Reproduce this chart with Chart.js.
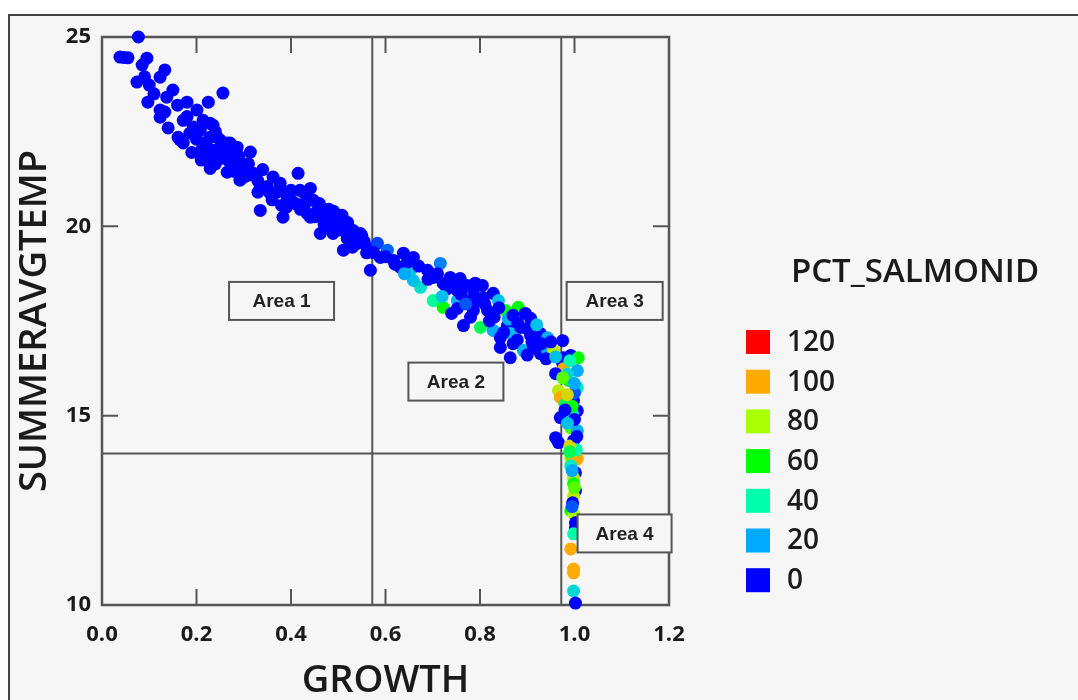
<!DOCTYPE html>
<html>
<head>
<meta charset="utf-8">
<script src="https://cdn.jsdelivr.net/npm/chart.js@4.4.1/dist/chart.umd.min.js"></script>
<style>
  html, body { margin: 0; padding: 0; background: #fff; overflow: hidden; }
  #frame { position: absolute; left: 8px; top: 14px; width: 1100px; height: 720px;
           border: 2px solid #444; background: #f6f6f6; }
  canvas { display: block; }
</style>
</head>
<body>
<div id="frame"><canvas id="c" width="1068" height="684"></canvas></div>
<script>
// readings: GROWTH (x), SUMMERAVGTEMP (y), PCT_SALMONID (colour)
var growth = [
  0.077,0.038,0.046,0.055,0.095,0.085,0.133,0.123,0.074,0.100,
  0.090,0.137,0.097,0.123,0.133,0.123,0.256,0.180,0.225,0.201,
  0.172,0.214,0.235,0.161,0.186,0.208,0.229,0.172,0.214,0.250,
  0.271,0.314,0.235,0.278,0.165,0.193,0.229,0.244,0.265,0.286,
  0.229,0.256,0.229,0.265,0.292,0.320,0.292,0.335,0.362,0.377,
  0.356,0.392,0.415,0.335,0.383,0.419,0.441,0.447,0.434,0.456,
  0.489,0.508,0.462,0.489,0.532,0.532,0.250,0.270,0.300,0.310,
  0.280,0.330,0.350,0.370,0.400,0.410,0.390,0.430,0.460,0.480,
  0.500,0.470,0.520,0.250,0.210,0.190,0.441,0.483,0.511,0.547,
  0.519,0.511,0.540,0.561,0.568,0.583,0.604,0.589,0.617,0.638,
  0.659,0.653,0.631,0.674,0.659,0.689,0.716,0.701,0.722,0.701,
  0.722,0.758,0.752,0.786,0.794,0.646,0.600,0.575,0.555,0.737,
  0.752,0.773,0.805,0.752,0.780,0.807,0.828,0.786,0.816,0.854,
  0.881,0.839,0.765,0.801,0.828,0.858,0.864,0.896,0.907,0.886,
  0.843,0.879,0.907,0.928,0.943,0.843,0.864,0.892,0.913,0.928,
  0.943,0.975,0.956,0.977,0.992,1.008,0.975,0.977,1.006,0.960,
  0.987,0.966,0.970,1.006,0.998,1.006,0.970,0.996,0.992,1.006,
  0.960,0.966,0.998,0.992,1.006,0.996,0.998,0.992,1.002,0.998,
  0.998,1.002,0.998,0.996,0.992,0.998,1.002,1.002,0.998,0.992,
  0.998,0.998,0.998,1.002,0.985,1.000,0.980,1.000,0.985,1.004,
  0.990,
  0.15,0.16,0.11,0.14,0.18,0.20,0.22,0.24,0.26,0.21,
  0.24,0.27,0.29,0.31,0.30,0.34,0.33,0.36,0.38,0.40,
  0.42,0.38,0.45,0.47,0.50,0.52,0.49,0.43,0.55,0.56,
  0.53,
  0.62,0.64,0.67,0.69,0.71,0.73,0.72,0.75,0.76,0.77,
  0.79,0.81,0.83,0.84,0.86,0.87,0.85,0.88,0.90,0.92,
  0.91,0.93,0.95,0.94,0.96,0.87,0.90,0.82,0.78,0.74,
  0.990,0.975,1.000,0.985,0.995,0.980,1.005,0.990,0.995,1.000,
  0.995
];
var temp = [
  25.00,24.47,24.46,24.45,24.44,24.26,24.13,23.94,23.81,23.73,
  23.95,23.41,23.28,23.07,23.02,22.88,23.52,23.28,23.28,23.07,
  22.80,22.80,22.67,22.35,22.46,22.54,22.35,22.20,22.20,22.28,
  22.20,21.96,22.01,22.01,22.28,22.62,22.72,22.35,22.20,22.09,
  21.83,21.80,21.53,21.43,21.56,21.40,21.22,21.03,21.30,21.14,
  20.87,20.77,21.40,20.42,20.24,20.95,21.00,20.69,20.34,20.42,
  20.16,20.29,19.81,19.81,19.89,19.63,21.90,21.70,21.60,21.35,
  21.45,21.20,21.05,20.90,20.95,20.60,20.50,20.85,20.60,20.45,
  20.05,20.20,20.10,22.05,22.00,21.95,20.24,19.97,20.08,19.81,
  19.68,19.37,19.55,19.44,18.84,19.55,19.37,19.18,19.10,19.29,
  19.18,18.84,18.92,18.39,18.57,18.84,19.02,18.04,17.86,18.65,
  18.49,18.62,18.04,18.31,18.04,19.05,19.20,19.30,19.60,18.65,
  18.31,18.44,18.44,17.83,18.04,18.12,18.23,17.78,17.78,17.78,
  17.86,18.04,17.38,17.33,17.25,17.38,17.17,17.70,17.57,17.33,
  17.06,17.00,17.12,17.17,17.06,16.80,16.53,16.72,16.80,16.64,
  16.72,16.98,16.72,16.53,16.59,16.53,16.38,16.24,16.19,16.11,
  15.93,15.66,15.48,15.74,15.40,15.13,14.95,15.05,14.68,14.60,
  14.42,14.29,14.34,13.89,13.86,13.94,13.81,13.68,13.49,13.36,
  13.20,13.02,12.88,12.70,12.49,12.41,12.17,12.04,11.88,11.48,
  10.95,10.85,10.37,10.05,16.10,15.60,15.30,14.90,14.80,14.10,
  14.20,
  23.60,23.20,23.50,22.60,22.90,22.30,22.15,22.50,22.00,21.75,
  21.65,21.90,21.85,21.65,21.30,21.50,20.90,20.70,20.95,20.70,
  20.45,20.55,20.25,20.05,19.90,19.80,20.40,20.60,19.75,19.30,
  19.45,
  19.00,18.75,18.95,18.60,18.75,18.35,18.15,18.45,18.20,17.95,
  18.50,17.95,17.60,17.85,17.55,17.65,17.20,17.45,17.30,17.40,
  16.95,16.90,16.95,16.50,16.55,16.90,16.60,17.50,17.60,17.70,
  16.45,16.00,15.85,15.55,15.25,15.15,14.45,14.05,13.55,13.10,
  12.60
];
var pct = [
  0,0,0,0,0,0,0,0,0,0,
  0,0,0,0,0,0,0,0,0,0,
  0,0,0,0,0,0,0,0,0,0,
  0,0,0,0,0,0,0,0,0,0,
  0,0,0,0,0,0,0,0,0,0,
  0,0,0,0,0,0,0,0,0,0,
  0,0,0,0,0,0,0,0,0,0,
  0,0,0,0,0,0,0,0,0,0,
  0,0,0,0,0,0,0,0,0,0,
  0,0,0,0,0,8,12,0,0,0,
  0,28,0,32,25,0,15,42,60,0,
  0,0,22,0,0,0,0,0,0,0,
  0,0,0,0,0,0,0,0,0,60,
  60,25,0,50,20,0,25,0,0,0,
  0,0,0,0,20,0,0,20,0,0,
  20,0,85,0,0,60,0,100,20,0,
  60,85,100,35,0,0,0,35,70,20,
  0,0,0,75,100,60,100,35,0,85,
  60,0,85,0,60,80,0,0,40,100,
  100,100,30,0,30,10,50,0,25,40,
  90,
  0,0,0,0,0,0,0,0,0,0,
  0,0,0,0,0,0,0,0,0,0,
  0,0,0,0,0,0,0,0,0,0,
  0,
  0,20,0,0,0,0,25,0,0,10,
  0,0,0,0,20,0,0,0,0,25,
  0,0,0,0,25,0,0,0,0,0,
  40,70,20,90,60,0,0,50,20,70,
  10
];

// colour key
var legendValues = [120, 100, 80, 60, 40, 20, 0];
var legendColors = ['#ff0000', '#ffaa00', '#aaff00', '#00ff00', '#00ffaa', '#00aaff', '#0000ff'];

// divider lines and area labels (data units)
var refX = [0.572, 0.972];
var refY = [14];
var areaNames = ['Area 1', 'Area 2', 'Area 3', 'Area 4'];
var areaX = [0.380, 0.749, 1.085, 1.106];
var areaY = [18.03, 15.90, 18.03, 11.89];
var areaW = [105, 95, 96, 94];

function hexRgb(h) {
  return [parseInt(h.substr(1, 2), 16), parseInt(h.substr(3, 2), 16), parseInt(h.substr(5, 2), 16)];
}
function pctColor(v) {
  var n = legendValues.length;
  for (var i = n - 1; i > 0; i--) {
    var lo = legendValues[i], hi = legendValues[i - 1];
    if (v <= hi || i === 1) {
      var t = Math.max(0, Math.min(1, (v - lo) / (hi - lo)));
      var a = hexRgb(legendColors[i]), b = hexRgb(legendColors[i - 1]);
      return 'rgb(' + Math.round(a[0] + (b[0] - a[0]) * t) + ',' +
        Math.round(a[1] + (b[1] - a[1]) * t) + ',' + Math.round(a[2] + (b[2] - a[2]) * t) + ')';
    }
  }
  return legendColors[n - 1];
}

var points = growth.map(function(g, i) { return {x: g, y: temp[i]}; });

var lineColor = '#555';

var framePlugin = {
  id: 'frame',
  beforeDatasetsDraw: function(chart) {
    var ctx = chart.ctx, a = chart.chartArea, xs = chart.scales.x, ys = chart.scales.y;
    ctx.save();
    ctx.strokeStyle = lineColor;
    ctx.lineWidth = 2;
    refX.forEach(function(v) {
      var px = xs.getPixelForValue(v);
      ctx.beginPath(); ctx.moveTo(px, a.top); ctx.lineTo(px, a.bottom); ctx.stroke();
    });
    refY.forEach(function(v) {
      var py = ys.getPixelForValue(v);
      ctx.beginPath(); ctx.moveTo(a.left, py); ctx.lineTo(a.right, py); ctx.stroke();
    });
    var tl = 16;
    xs.ticks.forEach(function(t) {
      if (t.value <= xs.min || t.value >= xs.max) return;
      var px = xs.getPixelForValue(t.value);
      ctx.beginPath();
      ctx.moveTo(px, a.bottom); ctx.lineTo(px, a.bottom - tl);
      ctx.moveTo(px, a.top); ctx.lineTo(px, a.top + tl);
      ctx.stroke();
    });
    ys.ticks.forEach(function(t) {
      if (t.value <= ys.min || t.value >= ys.max) return;
      var py = ys.getPixelForValue(t.value);
      ctx.beginPath();
      ctx.moveTo(a.left, py); ctx.lineTo(a.left + tl, py);
      ctx.moveTo(a.right, py); ctx.lineTo(a.right - tl, py);
      ctx.stroke();
    });
    ctx.lineWidth = 2.5;
    ctx.strokeRect(a.left, a.top, a.right - a.left, a.bottom - a.top);
    ctx.restore();
  }
};

var areaPlugin = {
  id: 'areas',
  afterDatasetsDraw: function(chart) {
    var ctx = chart.ctx, xs = chart.scales.x, ys = chart.scales.y;
    ctx.save();
    ctx.font = 'bold 19px "Liberation Sans", Arial, sans-serif';
    ctx.textAlign = 'center';
    ctx.textBaseline = 'middle';
    areaNames.forEach(function(name, i) {
      var cx = xs.getPixelForValue(areaX[i]), cy = ys.getPixelForValue(areaY[i]);
      var w = areaW[i], h = 38;
      ctx.fillStyle = '#f6f6f6';
      ctx.fillRect(cx - w / 2, cy - h / 2, w, h);
      ctx.strokeStyle = lineColor;
      ctx.lineWidth = 2;
      ctx.strokeRect(cx - w / 2, cy - h / 2, w, h);
      ctx.fillStyle = '#222';
      ctx.fillText(name, cx, cy + 1);
    });
    ctx.restore();
  }
};

var keyPlugin = {
  id: 'key',
  afterDraw: function(chart) {
    var ctx = chart.ctx, a = chart.chartArea;
    ctx.save();
    ctx.fillStyle = '#1a1a1a';
    ctx.textBaseline = 'middle';
    ctx.textAlign = 'center';
    ctx.font = '600 33px "Open Sans", sans-serif';
    ctx.fillText('PCT_SALMONID', a.right + 246, 257);
    ctx.textAlign = 'left';
    ctx.font = '600 28px "Open Sans", sans-serif';
    legendValues.forEach(function(v, i) {
      var cy = 326 + i * 39.7;
      ctx.fillStyle = legendColors[i];
      ctx.fillRect(a.right + 77, cy - 12, 24, 24);
      ctx.fillStyle = '#1a1a1a';
      ctx.fillText(String(v), a.right + 118, cy + 1);
    });
    ctx.restore();
  }
};

new Chart(document.getElementById('c'), {
  type: 'scatter',
  data: {
    datasets: [{
      data: points,
      clip: false,
      pointRadius: 6.5,
      pointHoverRadius: 6.5,
      borderWidth: 0,
      backgroundColor: function(c) { return pctColor(pct[c.dataIndex]); }
    }]
  },
  options: {
    responsive: false,
    animation: false,
    layout: { padding: { left: 0, top: 21, right: 409, bottom: 0 } },
    plugins: { legend: { display: false }, tooltip: { enabled: false } },
    scales: {
      x: {
        type: 'linear', min: 0, max: 1.2,
        grid: { display: false, drawTicks: false },
        border: { display: false },
        ticks: {
          stepSize: 0.2, padding: 17, color: '#1a1a1a',
          font: { family: '"Open Sans", sans-serif', size: 22, weight: 'bold' },
          callback: function(v) { return v.toFixed(1); }
        },
        title: {
          display: true, text: 'GROWTH', color: '#1a1a1a',
          font: { family: '"Open Sans", sans-serif', size: 38, weight: '600', lineHeight: 1 },
          padding: { top: 0, bottom: 0 }
        },
        afterFit: function(s) { s.height = 95; s.paddingLeft = 0; s.paddingRight = 0; }
      },
      y: {
        type: 'linear', min: 10, max: 25,
        grid: { display: false, drawTicks: false },
        border: { display: false },
        ticks: {
          stepSize: 5, padding: 11, color: '#1a1a1a',
          font: { family: '"Open Sans", sans-serif', size: 22, weight: 'bold' }
        },
        title: {
          display: true, text: 'SUMMERAVGTEMP', color: '#1a1a1a',
          font: { family: '"Open Sans", sans-serif', size: 38, weight: '600', lineHeight: 1 },
          padding: { top: 6, bottom: 0 }
        },
        afterFit: function(s) { s.width = 92; s.paddingTop = 0; s.paddingBottom = 0; }
      }
    }
  },
  plugins: [framePlugin, areaPlugin, keyPlugin]
});
</script>
</body>
</html>
